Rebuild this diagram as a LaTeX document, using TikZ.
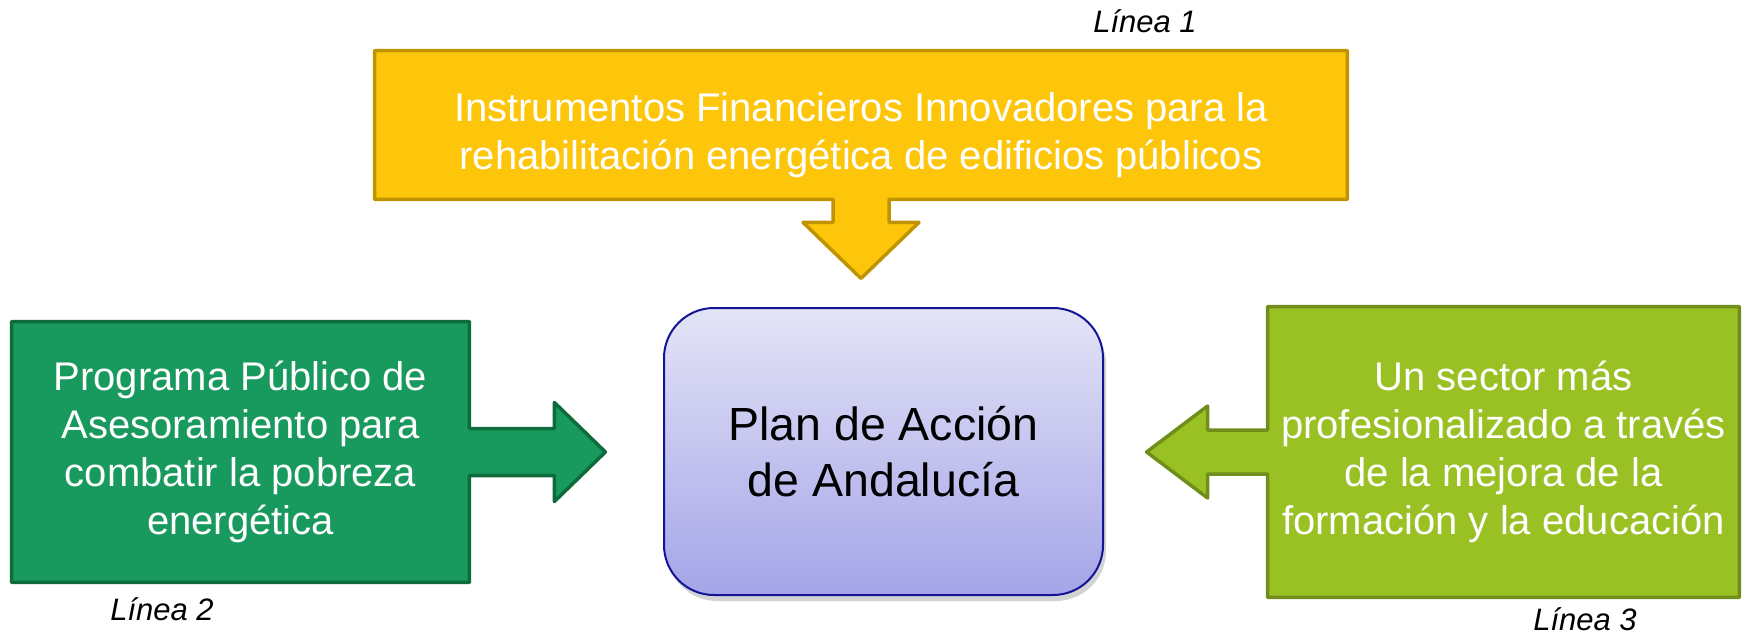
\documentclass[tikz,border=0pt]{standalone}
\usepackage{fontspec}
\setmainfont{Liberation Sans}
\usetikzlibrary{calc,backgrounds,shadows}

\definecolor{yelfill}{RGB}{253,198,11}
\definecolor{yeldraw}{RGB}{191,148,0}
\definecolor{grnfill}{RGB}{24,153,93}
\definecolor{grndraw}{RGB}{14,107,59}
\definecolor{limfill}{RGB}{154,193,36}
\definecolor{limdraw}{RGB}{112,142,27}
\definecolor{plantop}{RGB}{228,228,247}
\definecolor{planbot}{RGB}{164,164,232}
\definecolor{plandraw}{RGB}{20,20,150}

\tikzset{
  boxtext/.style={align=center, text=white, inner sep=0pt,
    font=\fontsize{20}{24}\selectfont},
  callout/.style={line width=1.75pt, line join=round},
  linea/.style={anchor=base, font=\fontsize{15.5}{18}\selectfont\itshape},
  planbox/.style={rounded corners=25pt, draw=plandraw, line width=1pt,
    top color=plantop, bottom color=planbot,
    minimum width=219.5pt, minimum height=143.5pt, align=center,
    font=\fontsize{23.25}{28}\selectfont,
    drop shadow={opacity=0.35, shadow xshift=1.5pt, shadow yshift=-3pt}},
}

\begin{document}
\begin{tikzpicture}[x=0.5pt, y=0.5pt]
  \useasboundingbox (0,0) rectangle (1744,634);

  % --- Central box ---
  \node[planbox] (plan) at (883.5,182.5) {Plan de Acción\\de Andalucía};

  % --- Línea 1 (top) ---
  \node[boxtext, minimum width=486pt, minimum height=74pt] (lin1) at (861,509) {};
  \node[boxtext] (txt1) at ($(lin1.center)+(0,-10)$)
    {Instrumentos Financieros Innovadores para la\\rehabilitación energética de edificios públicos};
  \coordinate (tip1) at ($(lin1.south)+(0,-79)$);
  \node[linea] (lab1) at (1145,602) {Línea 1};

  % --- Línea 2 (left) ---
  \node[boxtext, minimum width=228.5pt, minimum height=130pt] (lin2) at (240.5,182)
    {Programa Público de\\Asesoramiento para\\combatir la pobreza\\energética};
  \coordinate (tip2) at ($(lin2.east)+(136,0)$);
  \node[linea] (lab2) at (162,14) {Línea 2};

  % --- Línea 3 (right) ---
  \node[boxtext, minimum width=235.5pt, minimum height=145pt] (lin3) at (1503.5,182)
    {Un sector más\\profesionalizado a través\\de la mejora de la\\formación y la educación};
  \coordinate (tip3) at ($(lin3.west)+(-121,0)$);
  \node[linea] (lab3) at (1585,4) {Línea 3};

  % --- Box outlines with arrows ---
  \begin{scope}[on background layer]
    \draw[callout, draw=yeldraw, fill=yelfill]
      (lin1.north west) -- (lin1.north east) -- (lin1.south east)
      -- ($(lin1.south)+(28,0)$) -- ++(0,-23) -- ++(30,0) -- (tip1)
      -- ($(lin1.south)+(-58,-23)$) -- ++(30,0) -- ($(lin1.south)+(-28,0)$)
      -- (lin1.south west) -- cycle;
    \draw[callout, draw=grndraw, fill=grnfill]
      (lin2.north west) -- (lin2.north east)
      -- ($(lin2.east)+(0,23.5)$) -- ++(85,0) -- ++(0,26) -- (tip2)
      -- ($(lin2.east)+(85,-49.5)$) -- ++(0,26) -- ($(lin2.east)+(0,-23.5)$)
      -- (lin2.south east) -- (lin2.south west) -- cycle;
    \draw[callout, draw=limdraw, fill=limfill]
      (lin3.north east) -- (lin3.north west)
      -- ($(lin3.west)+(0,22)$) -- ++(-60,0) -- ++(0,24) -- (tip3)
      -- ($(lin3.west)+(-60,-46)$) -- ++(0,24) -- ($(lin3.west)+(0,-22)$)
      -- (lin3.south west) -- (lin3.south east) -- cycle;
  \end{scope}

\end{tikzpicture}
\end{document}
